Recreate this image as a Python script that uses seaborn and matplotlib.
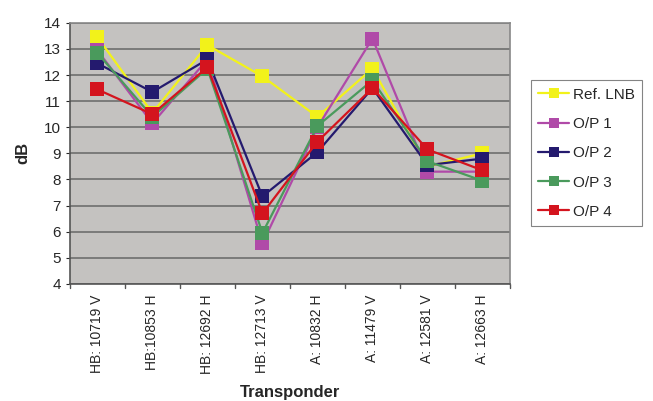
import matplotlib
matplotlib.use("Agg")
import matplotlib.pyplot as plt
import seaborn as sns
import pandas as pd

categories = ["HB: 10719 V", "HB:10853 H", "HB: 12692 H", "HB: 12713 V",
              "A: 10832 H", "A: 11479 V", "A: 12581 V", "A: 12663 H"]
ref_lnb = [13.45, 10.55, 13.15, 11.95, 10.4, 12.25, 8.5, 9.0]
op1 = [12.95, 10.15, 12.6, 5.55, 10.0, 13.4, 8.3, 8.3]
op2 = [12.45, 11.35, 12.6, 7.35, 9.05, 11.5, 8.55, 8.8]
op3 = [12.85, 10.4, 12.25, 5.95, 10.05, 11.8, 8.7, 7.95]
op4 = [11.45, 10.5, 12.3, 6.7, 9.45, 11.5, 9.15, 8.35]
series_names = ["Ref. LNB", "O/P 1", "O/P 2", "O/P 3", "O/P 4"]
colors = ["#f2f21a", "#b04aa8", "#241a6e", "#4a9a5c", "#d4141e"]

rows = []
for name, vals in zip(series_names, [ref_lnb, op1, op2, op3, op4]):
    for i, (c, v) in enumerate(zip(categories, vals)):
        rows.append({"Transponder": c, "idx": i, "dB": v, "series": name})
df = pd.DataFrame(rows)

sns.set_style("white")
plt.rcParams['font.family'] = ['Liberation Sans', 'DejaVu Sans']

fig = plt.figure(figsize=(6.53, 4.01), dpi=100)
ax = fig.add_axes([0.107, 0.292, 0.674, 0.651])
ax.set_facecolor("#c4c2c0")

sns.lineplot(data=df, x="idx", y="dB", hue="series", hue_order=series_names,
             palette=colors, marker="s", markersize=10, markeredgewidth=0,
             linewidth=1.6, ax=ax, legend=True, zorder=3)

ax.set_xlim(-0.5, len(categories) - 0.5)
ax.set_ylim(4, 14)
ax.set_yticks(range(4, 15))
ax.set_xticks(range(len(categories)))
ax.set_xticklabels(categories, rotation=90, fontsize=10)
ax.tick_params(axis="y", labelsize=11, length=3, direction="out", left=True)
ax.tick_params(axis="x", length=4, direction="out", bottom=False)
# category boundary ticks
for b in range(len(categories) + 1):
    ax.plot([b - 0.5, b - 0.5], [4, 3.85], color="#555555", lw=1, clip_on=False)
ax.yaxis.grid(True, color="#6e6e6e", linewidth=1.2)
ax.set_axisbelow(True)
for s in ax.spines.values():
    s.set_color("#888888")
    s.set_linewidth(1.2)
ax.spines["left"].set_color("#555555")
ax.spines["bottom"].set_color("#555555")

ax.set_xlabel("Transponder", fontsize=12, fontweight="bold", labelpad=8)
ax.set_ylabel("dB", fontsize=12, fontweight="bold", labelpad=10)

leg = ax.legend(loc="upper left", bbox_to_anchor=(1.03, 0.81), frameon=True,
                fancybox=False, edgecolor="#666666", fontsize=11,
                handlelength=2.0, handletextpad=0.25, borderpad=0.5,
                labelspacing=1.0, markerscale=0.75, title=None)
leg.get_frame().set_linewidth(0.8)

fig.savefig("out.png", dpi=100, facecolor="white")
